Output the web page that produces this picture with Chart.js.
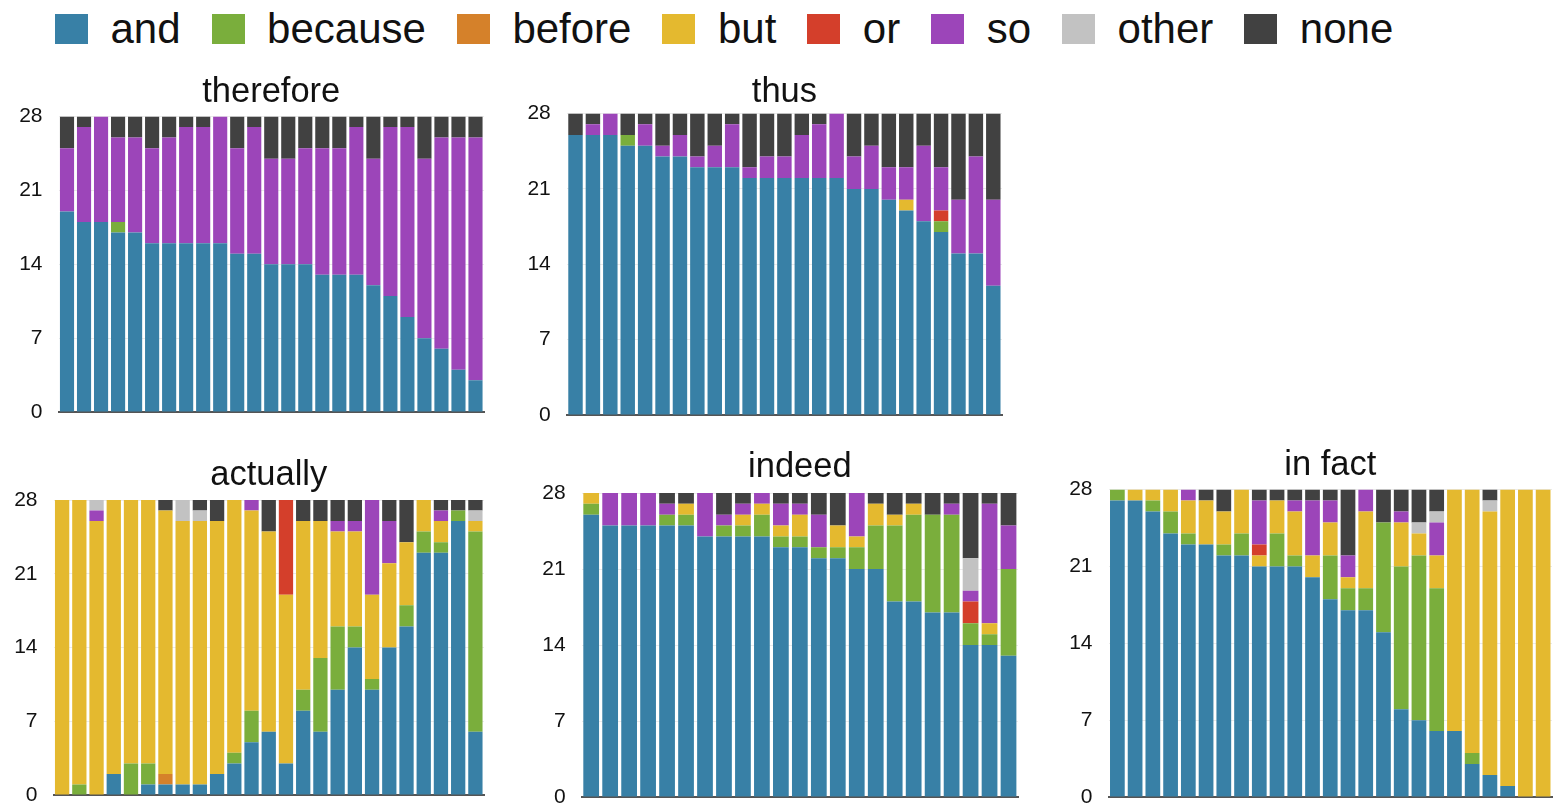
<!DOCTYPE html>
<html>
<head>
<meta charset="utf-8">
<script src="https://cdn.jsdelivr.net/npm/chart.js@4.4.0/dist/chart.umd.min.js"></script>
<style>
  body { margin: 0; background: #fff; font-family: "Liberation Sans", Arial, sans-serif; }
  #page { position: relative; width: 1559px; height: 807px; overflow: hidden; }
  #legend { position: absolute; left: 55px; top: 14px; height: 30px; display: flex; align-items: center; }
  .item { display: flex; align-items: center; margin-right: 31px; font-size: 42px; line-height: 42px; color: #111; }
  .swatch { width: 33px; height: 30px; margin-right: 22.5px; }
  canvas { position: absolute; }
</style>
</head>
<body>
<div id="page">
  <div id="legend"></div>
</div>
<script>
const seriesNames = ["and", "because", "before", "but", "or", "so", "other", "none"];
const seriesColors = ["#3880a6", "#7aae3c", "#d5812a", "#e4b92f", "#d43f2b", "#9c45b9", "#c2c2c2", "#414141"];
const yTicks = [0, 7, 14, 21, 28];

// therefore
const thereforeAnd     = [19,18,18,17,17,16,16,16,16,16,15,15,14,14,14,13,13,13,12,11,9,7,6,4,3];
const thereforeBecause = [0,0,0,1,0,0,0,0,0,0,0,0,0,0,0,0,0,0,0,0,0,0,0,0,0];
const thereforeBefore  = [0,0,0,0,0,0,0,0,0,0,0,0,0,0,0,0,0,0,0,0,0,0,0,0,0];
const thereforeBut     = [0,0,0,0,0,0,0,0,0,0,0,0,0,0,0,0,0,0,0,0,0,0,0,0,0];
const thereforeOr      = [0,0,0,0,0,0,0,0,0,0,0,0,0,0,0,0,0,0,0,0,0,0,0,0,0];
const thereforeSo      = [6,9,10,8,9,9,10,11,11,12,10,12,10,10,11,12,12,14,12,16,18,17,20,22,23];
const thereforeOther   = [0,0,0,0,0,0,0,0,0,0,0,0,0,0,0,0,0,0,0,0,0,0,0,0,0];
const thereforeNone    = [3,1,0,2,2,3,2,1,1,0,3,1,4,4,3,3,3,1,4,1,1,4,2,2,2];

// thus
const thusAnd     = [26,26,26,25,25,24,24,23,23,23,22,22,22,22,22,22,21,21,20,19,18,17,15,15,12];
const thusBecause = [0,0,0,1,0,0,0,0,0,0,0,0,0,0,0,0,0,0,0,0,0,1,0,0,0];
const thusBefore  = [0,0,0,0,0,0,0,0,0,0,0,0,0,0,0,0,0,0,0,0,0,0,0,0,0];
const thusBut     = [0,0,0,0,0,0,0,0,0,0,0,0,0,0,0,0,0,0,0,1,0,0,0,0,0];
const thusOr      = [0,0,0,0,0,0,0,0,0,0,0,0,0,0,0,0,0,0,0,0,0,1,0,0,0];
const thusSo      = [0,1,2,0,2,1,2,1,2,4,1,2,2,4,5,6,3,4,3,3,7,4,5,9,8];
const thusOther   = [0,0,0,0,0,0,0,0,0,0,0,0,0,0,0,0,0,0,0,0,0,0,0,0,0];
const thusNone    = [2,1,0,2,1,3,2,4,3,1,5,4,4,2,1,0,4,3,5,5,3,5,8,4,8];

// actually
const actuallyAnd     = [0,0,0,2,0,1,1,1,1,2,3,5,6,3,8,6,10,14,10,14,16,23,23,26,6];
const actuallyBecause = [0,1,0,0,3,2,0,0,0,0,1,3,0,0,2,7,6,2,1,0,2,2,1,1,19];
const actuallyBefore  = [0,0,0,0,0,0,1,0,0,0,0,0,0,0,0,0,0,0,0,0,0,0,0,0,0];
const actuallyBut     = [28,27,26,26,25,25,25,25,25,24,24,19,19,16,16,13,9,9,8,8,6,3,2,0,1];
const actuallyOr      = [0,0,0,0,0,0,0,0,0,0,0,0,0,9,0,0,0,0,0,0,0,0,0,0,0];
const actuallySo      = [0,0,1,0,0,0,0,0,0,0,0,1,0,0,0,0,1,1,9,4,0,0,1,0,0];
const actuallyOther   = [0,0,1,0,0,0,0,2,1,0,0,0,0,0,0,0,0,0,0,0,0,0,0,0,1];
const actuallyNone    = [0,0,0,0,0,0,1,0,1,2,0,0,3,0,2,2,2,2,0,2,4,0,1,1,1];

// indeed
const indeedAnd     = [26,25,25,25,25,25,24,24,24,24,23,23,22,22,21,21,18,18,17,17,14,14,13];
const indeedBecause = [1,0,0,0,1,1,0,1,1,2,1,1,1,1,2,4,7,8,9,9,2,1,8];
const indeedBefore  = [0,0,0,0,0,0,0,0,0,0,0,0,0,0,0,0,0,0,0,0,0,0,0];
const indeedBut     = [1,0,0,0,0,1,0,0,1,1,1,2,0,2,1,2,1,1,0,0,0,1,0];
const indeedOr      = [0,0,0,0,0,0,0,0,0,0,0,0,0,0,0,0,0,0,0,0,2,0,0];
const indeedSo      = [0,3,3,3,1,0,4,1,1,1,2,1,3,0,4,0,0,0,0,1,1,11,4];
const indeedOther   = [0,0,0,0,0,0,0,0,0,0,0,0,0,0,0,0,0,0,0,0,3,0,0];
const indeedNone    = [0,0,0,0,1,1,0,2,1,0,1,1,2,3,0,1,2,1,2,1,6,1,3];

// in fact
const inFactAnd     = [27,27,26,24,23,23,22,22,21,21,21,20,18,17,17,15,8,7,6,6,3,2,1,0,0];
const inFactBecause = [1,0,1,2,1,0,1,2,0,3,1,0,4,2,2,10,13,15,13,0,1,0,0,0,0];
const inFactBefore  = [0,0,0,0,0,0,0,0,0,0,0,0,0,0,0,0,0,0,0,0,0,0,0,0,0];
const inFactBut     = [0,1,1,2,3,4,3,4,1,3,4,2,3,1,7,0,4,2,3,22,24,24,27,28,28];
const inFactOr      = [0,0,0,0,0,0,0,0,1,0,0,0,0,0,0,0,0,0,0,0,0,0,0,0,0];
const inFactSo      = [0,0,0,0,1,0,0,0,4,0,1,5,2,2,2,0,1,0,3,0,0,0,0,0,0];
const inFactOther   = [0,0,0,0,0,0,0,0,0,0,0,0,0,0,0,0,0,1,1,0,0,1,0,0,0];
const inFactNone    = [0,0,0,0,0,1,2,0,1,1,1,1,1,6,0,3,2,3,2,0,0,1,0,0,0];

const fontFamily = '"Liberation Sans", Arial, sans-serif';

// legend
const legend = document.getElementById("legend");
seriesNames.forEach((name, i) => {
  const item = document.createElement("div");
  item.className = "item";
  item.innerHTML = `<span class="swatch" style="background:${seriesColors[i]}"></span><span>${name}</span>`;
  legend.appendChild(item);
});

const panels = [
  { title: "therefore", series: [thereforeAnd, thereforeBecause, thereforeBefore, thereforeBut, thereforeOr, thereforeSo, thereforeOther, thereforeNone],
    plot: { l: 58.5, r: 484.2, t: 116.5, b: 411.5 }, titleY: 92.5 },
  { title: "thus", series: [thusAnd, thusBecause, thusBefore, thusBut, thusOr, thusSo, thusOther, thusNone],
    plot: { l: 566.8, r: 1001.5, t: 113.5, b: 415 }, titleY: 92.5 },
  { title: "actually", series: [actuallyAnd, actuallyBecause, actuallyBefore, actuallyBut, actuallyOr, actuallySo, actuallyOther, actuallyNone],
    plot: { l: 53.5, r: 484, t: 500, b: 795 }, titleY: 475.5 },
  { title: "indeed", series: [indeedAnd, indeedBecause, indeedBefore, indeedBut, indeedOr, indeedSo, indeedOther, indeedNone],
    plot: { l: 581.7, r: 1018.3, t: 493, b: 796.7 }, titleY: 467.5 },
  { title: "in fact", series: [inFactAnd, inFactBecause, inFactBefore, inFactBut, inFactOr, inFactSo, inFactOther, inFactNone],
    plot: { l: 1108.5, r: 1551.5, t: 489.5, b: 797 }, titleY: 466 }
];

const page = document.getElementById("page");
const titleSize = 34.5;
const titleLine = titleSize * 1.2;
// must exceed the y axis' bottom padding (half label height + tick padding)
const bottomH = 31;

panels.forEach(p => {
  const left = Math.max(0, Math.round(p.plot.l) - 60);
  const axisW = p.plot.l - left;
  const top = Math.round(p.titleY - titleLine / 2);
  const titlePad = p.plot.t - top - titleLine;
  const width = Math.round(p.plot.r - left) + 4;
  const height = Math.round(p.plot.b - top + bottomH);

  const canvas = document.createElement("canvas");
  canvas.width = width;
  canvas.height = height;
  canvas.style.left = left + "px";
  canvas.style.top = top + "px";
  page.appendChild(canvas);

  new Chart(canvas, {
    type: "bar",
    data: {
      labels: p.series[0].map((_, i) => i + 1),
      datasets: seriesNames.map((name, i) => ({
        label: name,
        data: p.series[i],
        backgroundColor: seriesColors[i],
        borderWidth: 0,
        barPercentage: 0.83,
        categoryPercentage: 1
      }))
    },
    options: {
      responsive: false,
      animation: false,
      layout: { padding: { left: 0, right: width - Math.round(p.plot.r - left), top: 0, bottom: 0 } },
      plugins: {
        legend: { display: false },
        tooltip: { enabled: false },
        title: {
          display: true,
          text: p.title,
          fullSize: false,
          color: "#111",
          font: { family: fontFamily, size: titleSize, weight: "normal", lineHeight: 1.2 },
          padding: { top: 0, bottom: titlePad }
        }
      },
      scales: {
        x: {
          stacked: true,
          grid: { display: false, drawTicks: false },
          ticks: { display: false },
          border: { display: true, color: "#555", width: 2 },
          afterFit: s => { s.height = bottomH; }
        },
        y: {
          stacked: true,
          min: 0,
          max: 28,
          afterBuildTicks: s => { s.ticks = yTicks.map(v => ({ value: v })); },
          afterFit: s => { s.width = axisW; },
          grid: { color: "#ebebeb", lineWidth: 1, drawTicks: false },
          border: { display: false },
          ticks: { color: "#111", padding: 16, font: { family: fontFamily, size: 21 } }
        }
      }
    }
  });
});
</script>
</body>
</html>
